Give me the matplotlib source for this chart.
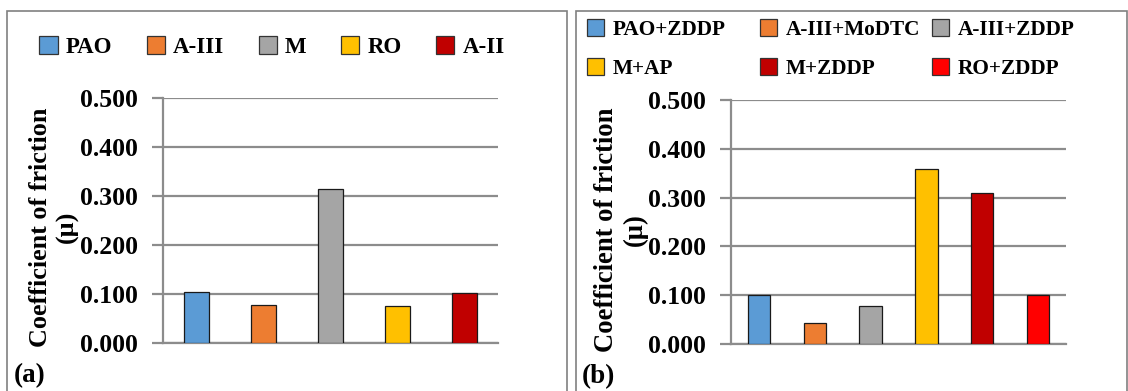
import matplotlib
matplotlib.use("Agg")
import matplotlib.pyplot as plt
from matplotlib.patches import Rectangle, Patch

plt.rcParams['font.family'] = ['Liberation Serif', 'DejaVu Serif']
plt.rcParams['font.weight'] = 'bold'

# Panel (a)
cats_a = ["PAO", "A-III", "M", "RO", "A-II"]
vals_a = [0.105, 0.077, 0.314, 0.075, 0.103]
cols_a = ["#5B9BD5", "#ED7D31", "#A5A5A5", "#FFC000", "#C00000"]

# Panel (b)
cats_b = ["PAO+ZDDP", "A-III+MoDTC", "A-III+ZDDP", "M+AP", "M+ZDDP", "RO+ZDDP"]
vals_b = [0.100, 0.044, 0.078, 0.359, 0.310, 0.100]
cols_b = ["#5B9BD5", "#ED7D31", "#A5A5A5", "#FFC000", "#C00000", "#FF0000"]

yticks = [0.0, 0.1, 0.2, 0.3, 0.4, 0.5]
ylabel = "Coefficient of friction\n(\u00b5)"

W, H = 1128, 391
fig = plt.figure(figsize=(W/100, H/100), dpi=100)

def fx(px):
    return px / W

def fy(py):
    return 1 - py / H

# panel borders
for (x0, x1) in [(7, 567), (576, 1127)]:
    fig.patches.append(Rectangle((fx(x0), fy(392)), fx(x1 - x0), (392 - 11) / H,
                                 transform=fig.transFigure, fill=False,
                                 edgecolor="#808080", linewidth=1.2))

grid_c = "#8C8C8C"

def make_ax(box, cats, vals, cols, width):
    x0, y0, x1, y1 = box
    ax = fig.add_axes([fx(x0), fy(y1), fx(x1 - x0), (y1 - y0) / H])
    x = range(len(cats))
    ax.bar(x, vals, width=width, color=cols, edgecolor="#1a1a1a", linewidth=0.9, zorder=3)
    ax.set_xlim(-0.5, len(cats) - 0.5)
    ax.set_ylim(0, 0.5)
    ax.set_yticks(yticks)
    ax.set_yticklabels([f"{v:.3f}" for v in yticks], fontsize=18.5, fontweight='bold')
    ax.set_xticks([])
    ax.yaxis.grid(True, color=grid_c, linewidth=1.6, zorder=0)
    ax.set_axisbelow(True)
    for s in ["top", "right"]:
        ax.spines[s].set_visible(False)
    ax.spines["left"].set_color(grid_c)
    ax.spines["left"].set_linewidth(1.6)
    ax.spines["bottom"].set_color(grid_c)
    ax.spines["bottom"].set_linewidth(1.6)
    ax.tick_params(axis='y', direction='out', length=8, width=1.6, color=grid_c, pad=10)
    return ax

ax_a = make_ax((163, 98, 498, 343), cats_a, vals_a, cols_a, 0.36)
ax_b = make_ax((731, 100, 1066, 344), cats_b, vals_b, cols_b, 0.40)

# y labels
fig.text(fx(54), fy(227), ylabel, rotation=90, ha='center', va='center',
         multialignment='center', fontsize=18.8, fontweight='bold', linespacing=1.22)
fig.text(fx(621), fy(230), ylabel, rotation=90, ha='center', va='center',
         multialignment='center', fontsize=19.2, fontweight='bold', linespacing=1.22)

# panel labels
fig.text(fx(14), fy(376), "(a)", ha='left', va='center', fontsize=19.5, fontweight='bold')
fig.text(fx(582), fy(377), "(b)", ha='left', va='center', fontsize=19.5, fontweight='bold')

# legend (a)
h_a = [Patch(facecolor=c, edgecolor="#333333", linewidth=0.9) for c in cols_a]
fig.legend(h_a, cats_a, loc='center', bbox_to_anchor=(fx(272), fy(47)), ncol=5,
           frameon=False, handlelength=0.8, handleheight=0.85,
           handletextpad=0.35, columnspacing=1.5, borderpad=0,
           prop={'weight': 'bold', 'size': 16.5})

# legend (b): three columns, row-wise order
h_b = [Patch(facecolor=c, edgecolor="#333333", linewidth=0.9) for c in cols_b]
col_x = [587, 760, 932]
for j in range(3):
    idx = [j, j + 3]
    fig.legend([h_b[i] for i in idx], [cats_b[i] for i in idx], loc='upper left',
               bbox_to_anchor=(fx(col_x[j]), fy(19)), ncol=1, frameon=False,
               handlelength=0.8, handleheight=0.85, handletextpad=0.4,
               labelspacing=0.85, borderpad=0, borderaxespad=0,
               prop={'weight': 'bold', 'size': 15.3})

fig.savefig("out.png", dpi=100)
